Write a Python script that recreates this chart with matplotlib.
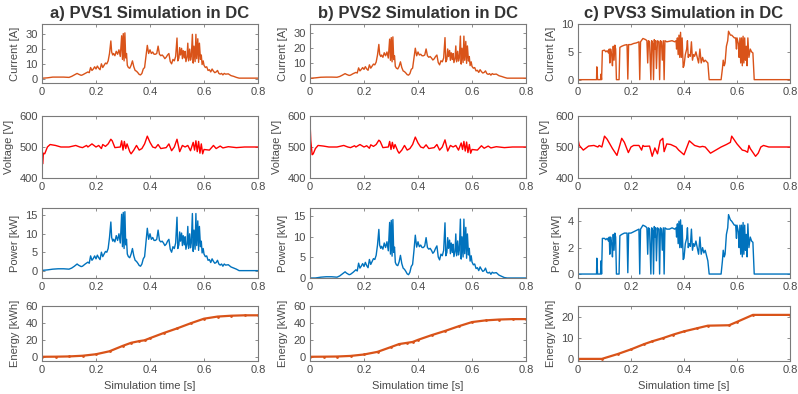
# PV system DC simulation: current, voltage, power and energy for three PV systems

import matplotlib.pyplot as plt

# ------------------------------------------
# Data
# ------------------------------------------

# shared time grid for PVS1 / PVS2 current and power
t12 = [0, 0.005, 0.02, 0.04, 0.06, 0.08, 0.10, 0.11, 0.12, 0.13,
       0.135, 0.145, 0.15, 0.16, 0.17, 0.175, 0.18, 0.185, 0.19, 0.195,
       0.20, 0.205, 0.21, 0.215, 0.22, 0.225, 0.23, 0.235, 0.24, 0.245,
       0.25, 0.255, 0.258, 0.262, 0.265, 0.27, 0.275, 0.28, 0.285, 0.29,
       0.295, 0.298, 0.301, 0.304, 0.307, 0.31, 0.313, 0.316, 0.32, 0.325,
       0.33, 0.335, 0.34, 0.345, 0.35, 0.355, 0.36, 0.365, 0.37, 0.375,
       0.38, 0.385, 0.39, 0.395, 0.40, 0.405, 0.41, 0.415, 0.42, 0.425,
       0.43, 0.435, 0.44, 0.445, 0.45, 0.455, 0.46, 0.465, 0.47, 0.475,
       0.48, 0.485, 0.49, 0.495, 0.50, 0.503, 0.507, 0.51, 0.513, 0.517,
       0.52, 0.523, 0.527, 0.53, 0.533, 0.537, 0.54, 0.543, 0.547, 0.55,
       0.553, 0.557, 0.56, 0.563, 0.567, 0.57, 0.573, 0.577, 0.58, 0.583,
       0.587, 0.59, 0.593, 0.597, 0.60, 0.605, 0.61, 0.615, 0.62, 0.625,
       0.63, 0.635, 0.64, 0.645, 0.65, 0.655, 0.66, 0.665, 0.67, 0.675,
       0.68, 0.69, 0.70, 0.71, 0.72, 0.73, 0.75, 0.80]

current1 = [0.3, 0.3, 0.5, 1.0, 1.0, 1.0, 0.8, 1.5, 2.5, 3.5,
            3.0, 2.2, 2.5, 3.5, 4.5, 4.0, 7.5, 5.5, 6.5, 8.0,
            6.5, 8.5, 7.0, 6.0, 10.0, 7.5, 9.0, 10.5, 10.0, 12.0,
            17.0, 25.5, 18.0, 16.0, 17.0, 15.5, 18.5, 16.5, 19.5, 15.0,
            29.0, 13.0, 30.5, 12.0, 31.0, 14.0, 17.0, 9.0, 7.5, 7.0,
            9.0, 12.0, 8.0, 5.5, 5.0, 4.0, 2.8, 2.5, 3.5, 6.5,
            7.5, 15.0, 22.5, 17.0, 19.5, 17.0, 18.0, 16.5, 16.5, 17.0,
            22.0, 16.5, 15.5, 16.0, 15.0, 13.5, 14.5, 16.0, 17.0, 11.5,
            10.0, 13.0, 12.0, 15.0, 27.5, 12.0, 14.0, 21.0, 16.0, 20.5,
            13.5, 19.0, 14.0, 18.5, 11.5, 14.5, 24.0, 12.0, 20.0, 12.5,
            15.0, 30.0, 10.5, 22.0, 11.5, 30.0, 13.5, 27.0, 11.0, 24.0,
            13.0, 16.0, 9.5, 12.0, 9.0, 7.5, 8.0, 5.5, 6.0, 4.5,
            6.5, 5.0, 4.0, 4.5, 5.5, 3.5, 3.0, 3.5, 2.5, 3.5,
            3.0, 3.2, 2.0, 1.5, 0.8, 0.3, 0.3, 0.3]

power1 = [0.1, 0.1, 0.2, 0.4, 0.5, 0.5, 0.4, 0.7, 1.2, 1.8,
          1.5, 1.1, 1.2, 1.8, 2.3, 2.0, 4.0, 2.8, 3.3, 4.0,
          3.2, 4.2, 3.5, 3.0, 5.0, 3.8, 4.5, 5.2, 5.0, 6.0,
          9.0, 13.2, 9.0, 8.0, 8.5, 7.8, 9.5, 8.2, 10.0, 7.5,
          15.3, 6.5, 15.8, 6.0, 16.0, 7.0, 8.5, 4.5, 3.8, 3.5,
          4.5, 6.0, 4.0, 2.8, 2.5, 2.0, 1.4, 1.2, 1.8, 3.2,
          3.8, 7.5, 11.5, 8.5, 10.0, 8.5, 9.0, 8.2, 8.2, 8.5,
          11.0, 8.2, 7.8, 8.0, 7.5, 6.8, 7.2, 8.0, 8.5, 5.8,
          5.0, 6.5, 6.0, 7.5, 14.5, 6.0, 7.0, 10.5, 8.0, 10.2,
          6.8, 9.5, 7.0, 9.2, 5.8, 7.2, 12.0, 6.0, 10.0, 6.2,
          7.5, 15.5, 5.2, 11.0, 5.8, 15.5, 6.8, 13.5, 5.5, 12.0,
          6.5, 8.0, 4.8, 6.0, 4.5, 3.8, 4.0, 2.8, 3.0, 2.2,
          3.2, 2.5, 2.0, 2.2, 2.8, 1.8, 1.5, 1.8, 1.2, 1.8,
          1.5, 1.6, 1.0, 0.7, 0.4, 0.0, 0.0, 0.0]

current2 = [0.0, 0.2, 0.4, 0.8, 0.9, 0.9, 0.8, 1.3, 2.2, 3.2,
            2.7, 2.0, 2.2, 3.2, 4.0, 3.6, 7.0, 5.0, 6.0, 7.2,
            6.0, 7.8, 6.3, 5.4, 9.0, 6.8, 8.2, 9.5, 9.0, 10.8,
            15.5, 22.5, 16.0, 14.5, 15.5, 14.0, 17.0, 15.0, 17.5, 13.5,
            26.0, 12.0, 27.0, 11.0, 27.5, 12.5, 15.0, 8.0, 6.8, 6.3,
            8.0, 11.0, 7.2, 5.0, 4.5, 3.6, 2.5, 2.2, 3.2, 6.0,
            6.8, 13.5, 20.0, 15.0, 17.5, 15.5, 16.0, 15.0, 15.0, 15.5,
            19.5, 15.0, 14.0, 14.5, 13.5, 12.2, 13.0, 14.5, 15.5, 10.5,
            9.0, 11.7, 11.0, 13.5, 27.0, 11.0, 12.5, 19.5, 14.5, 18.5,
            12.0, 17.0, 12.5, 16.5, 10.5, 13.0, 21.5, 11.0, 18.0, 11.5,
            13.5, 28.0, 9.5, 20.0, 10.5, 28.0, 12.0, 24.5, 10.0, 21.5,
            11.5, 14.5, 8.5, 11.0, 8.0, 6.8, 7.2, 5.0, 5.4, 4.0,
            5.8, 4.5, 3.6, 4.0, 5.0, 3.2, 2.7, 3.2, 2.2, 3.2,
            2.7, 2.9, 1.8, 1.3, 0.7, 0.2, 0.2, 0.2]

power2 = [0.0, 0.0, 0.0, 0.2, 0.3, 0.3, 0.2, 0.5, 1.0, 1.5,
          1.2, 0.8, 0.9, 1.4, 2.0, 1.7, 3.6, 2.4, 2.9, 3.5,
          2.8, 3.8, 3.0, 2.5, 4.5, 3.3, 4.0, 4.7, 4.5, 5.5,
          8.0, 11.8, 8.0, 7.2, 7.7, 7.0, 8.5, 7.4, 8.8, 6.6,
          13.5, 5.8, 14.0, 5.3, 14.2, 6.2, 7.5, 3.8, 3.2, 3.0,
          3.9, 5.5, 3.5, 2.4, 2.1, 1.6, 1.0, 0.8, 1.4, 2.8,
          3.3, 6.6, 10.4, 7.5, 8.8, 7.6, 8.0, 7.4, 7.4, 7.8,
          9.8, 7.4, 7.0, 7.2, 6.7, 6.0, 6.4, 7.2, 7.8, 5.1,
          4.4, 5.8, 5.4, 6.7, 13.4, 5.4, 6.2, 9.8, 7.2, 9.2,
          5.9, 8.5, 6.2, 8.2, 5.2, 6.4, 10.7, 5.4, 9.0, 5.6,
          6.7, 14.3, 4.6, 10.0, 5.1, 14.3, 5.9, 12.3, 4.8, 10.7,
          5.6, 7.2, 4.1, 5.4, 3.9, 3.2, 3.4, 2.3, 2.5, 1.8,
          2.7, 2.1, 1.6, 1.8, 2.4, 1.4, 1.2, 1.4, 0.9, 1.4,
          1.2, 1.3, 0.7, 0.4, 0.1, 0.0, 0.0, 0.0]

# PVS3 current / power time grid
t3 = [0, 0.07, 0.071, 0.074, 0.085, 0.087, 0.089, 0.092, 0.10, 0.105,
      0.11, 0.115, 0.118, 0.12, 0.123, 0.127, 0.13, 0.133, 0.136, 0.139,
      0.142, 0.145, 0.155, 0.158, 0.165, 0.175, 0.185, 0.188, 0.191, 0.20,
      0.21, 0.22, 0.23, 0.233, 0.236, 0.245, 0.255, 0.26, 0.263, 0.266,
      0.27, 0.275, 0.278, 0.282, 0.285, 0.288, 0.29, 0.293, 0.296, 0.30,
      0.305, 0.308, 0.311, 0.315, 0.318, 0.322, 0.325, 0.328, 0.335, 0.345,
      0.355, 0.365, 0.37, 0.372, 0.375, 0.378, 0.381, 0.384, 0.387, 0.39,
      0.393, 0.397, 0.40, 0.405, 0.41, 0.413, 0.416, 0.42, 0.424, 0.428,
      0.432, 0.436, 0.44, 0.445, 0.45, 0.455, 0.46, 0.465, 0.47, 0.475,
      0.48, 0.49, 0.495, 0.54, 0.545, 0.548, 0.552, 0.555, 0.56, 0.565,
      0.568, 0.575, 0.58, 0.59, 0.595, 0.598, 0.60, 0.605, 0.608, 0.611,
      0.614, 0.617, 0.62, 0.623, 0.626, 0.629, 0.632, 0.635, 0.638, 0.641,
      0.645, 0.65, 0.655, 0.66, 0.665, 0.80]

current3 = [0, 0, 2.3, 0, 0, 1.0, 0, 5.2, 5.3, 5.0,
            5.2, 4.8, 5.5, 3.0, 5.5, 4.5, 2.5, 6.0, 3.5, 6.2,
            5.5, 0, 0, 5.8, 6.0, 6.2, 6.3, 0.1, 6.3, 6.3,
            6.5, 6.6, 6.8, 0, 6.8, 7.4, 7.2, 7.0, 3.0, 7.0,
            6.8, 0, 7.0, 6.5, 0, 7.2, 5.5, 7.0, 2.0, 7.0,
            6.8, 0, 7.0, 6.8, 3.5, 7.0, 0, 7.0, 6.8, 6.9,
            7.0, 6.8, 7.0, 5.5, 7.5, 4.5, 8.0, 4.0, 8.5, 4.0,
            7.5, 2.2, 2.5, 4.5, 5.5, 7.0, 4.0, 4.5, 4.2, 6.8,
            3.5, 4.5, 4.2, 5.0, 4.0, 3.0, 5.5, 3.0, 4.0, 3.2,
            3.5, 3.0, 0, 0, 2.0, 3.5, 2.5, 3.0, 6.0, 7.0,
            8.7, 8.0, 8.0, 7.5, 7.5, 5.5, 7.5, 6.5, 4.0, 7.5,
            3.0, 7.5, 2.5, 7.8, 3.0, 7.5, 3.5, 6.0, 2.5, 7.5,
            4.0, 5.5, 5.0, 4.8, 0, 0]

power3 = [0, 0, 1.2, 0, 0, 1.0, 0, 2.7, 2.7, 2.6,
          2.7, 2.5, 2.8, 1.5, 2.8, 2.3, 1.3, 3.0, 1.8, 3.1,
          2.8, 0, 0, 2.9, 3.0, 3.1, 3.1, 0.1, 3.1, 3.1,
          3.2, 3.3, 3.4, 0, 3.4, 3.7, 3.6, 3.5, 1.5, 3.5,
          3.4, 0, 3.5, 3.3, 0, 3.6, 2.8, 3.5, 1.0, 3.5,
          3.4, 0, 3.5, 3.4, 1.8, 3.5, 0, 3.5, 3.4, 3.4,
          3.5, 3.4, 3.5, 2.8, 3.8, 2.3, 4.0, 2.0, 4.1, 2.0,
          3.7, 1.1, 1.2, 2.3, 2.7, 3.5, 2.0, 2.3, 2.1, 3.4,
          1.8, 2.3, 2.1, 2.5, 2.0, 1.5, 2.8, 1.5, 2.0, 1.6,
          1.8, 1.0, 0, 0, 1.0, 1.8, 1.3, 1.5, 3.0, 3.5,
          4.5, 4.1, 4.0, 3.7, 3.7, 2.7, 3.7, 3.2, 2.0, 3.7,
          1.5, 3.7, 1.3, 3.9, 1.5, 3.7, 1.8, 3.0, 1.3, 3.8,
          2.0, 2.8, 2.5, 2.4, 0, 0]

# voltages
tv1 = [0, 0.002, 0.005, 0.01, 0.02, 0.03, 0.05, 0.07, 0.1, 0.125,
       0.14, 0.15, 0.165, 0.17, 0.185, 0.2, 0.21, 0.22, 0.225, 0.235,
       0.245, 0.255, 0.26, 0.27, 0.29, 0.295, 0.30, 0.305, 0.31, 0.315,
       0.325, 0.33, 0.34, 0.35, 0.36, 0.37, 0.38, 0.39, 0.40, 0.41,
       0.42, 0.43, 0.44, 0.46, 0.47, 0.48, 0.49, 0.50, 0.51, 0.52,
       0.53, 0.54, 0.55, 0.56, 0.565, 0.57, 0.575, 0.58, 0.585, 0.59,
       0.595, 0.60, 0.62, 0.635, 0.645, 0.66, 0.67, 0.69, 0.72, 0.75, 0.80]
voltage1 = [535, 445, 480, 478, 500, 508, 505, 500, 500, 505,
            500, 498, 505, 500, 510, 500, 505, 495, 508, 502,
            510, 525, 520, 498, 500, 520, 490, 518, 495, 510,
            485, 478, 490, 505, 490, 495, 510, 535, 515, 500,
            497, 508, 495, 498, 510, 488, 500, 525, 485, 505,
            500, 505, 488, 515, 490, 520, 485, 518, 480, 510,
            478, 492, 490, 505, 495, 503, 497, 501, 498, 500, 500]

tv2 = [0, 0.003, 0.008, 0.012, 0.02, 0.03, 0.05, 0.07, 0.1, 0.125,
       0.14, 0.15, 0.165, 0.17, 0.185, 0.2, 0.21, 0.22, 0.225, 0.235,
       0.245, 0.255, 0.26, 0.27, 0.29, 0.295, 0.30, 0.305, 0.31, 0.315,
       0.325, 0.33, 0.34, 0.35, 0.36, 0.37, 0.38, 0.39, 0.40, 0.41,
       0.42, 0.43, 0.44, 0.46, 0.47, 0.48, 0.49, 0.50, 0.51, 0.52,
       0.53, 0.54, 0.55, 0.56, 0.565, 0.57, 0.575, 0.58, 0.585, 0.59,
       0.595, 0.60, 0.62, 0.635, 0.645, 0.66, 0.67, 0.69, 0.72, 0.75, 0.80]
voltage2 = [580, 520, 475, 478, 495, 505, 503, 500, 500, 505,
            500, 498, 504, 500, 508, 500, 504, 496, 507, 502,
            508, 522, 518, 498, 500, 518, 492, 515, 495, 508,
            487, 480, 490, 505, 490, 495, 508, 532, 513, 500,
            497, 507, 495, 498, 508, 490, 500, 523, 487, 505,
            500, 505, 490, 513, 492, 518, 487, 516, 482, 508,
            480, 492, 490, 504, 496, 503, 497, 501, 498, 500, 500]

tv3 = [0, 0.005, 0.02, 0.04, 0.06, 0.075, 0.08, 0.09, 0.10, 0.11,
       0.12, 0.13, 0.147, 0.165, 0.175, 0.19, 0.20, 0.21, 0.23, 0.24,
       0.245, 0.25, 0.27, 0.28, 0.29, 0.30, 0.31, 0.32, 0.325, 0.335,
       0.35, 0.37, 0.38, 0.40, 0.42, 0.44, 0.46, 0.47, 0.48, 0.50,
       0.52, 0.54, 0.56, 0.575, 0.58, 0.60, 0.62, 0.63, 0.64, 0.645,
       0.65, 0.67, 0.68, 0.69, 0.70, 0.72, 0.80]
voltage3 = [525, 505, 490, 503, 505, 500, 505, 500, 535, 525,
            510, 495, 473, 528, 515, 482, 500, 505, 505, 490,
            505, 502, 503, 470, 497, 478, 520, 528, 485, 510,
            508, 500, 490, 475, 520, 505, 500, 502, 500, 480,
            490, 500, 508, 515, 535, 510, 490, 488, 483, 505,
            495, 470, 480, 500, 505, 500, 500]

# energies
te12 = [0, 0.05, 0.1, 0.15, 0.2, 0.25, 0.3, 0.33, 0.36, 0.38,
        0.4, 0.45, 0.5, 0.55, 0.6, 0.65, 0.7, 0.75, 0.8]
energy1 = [0, 0.1, 0.4, 1.2, 3.0, 6.5, 13, 16.5, 18.5, 19.5,
           22, 28, 33.5, 39.5, 45, 47.5, 48.5, 49, 49]
energy2 = [0, 0.1, 0.3, 1.0, 2.7, 5.8, 11.5, 15, 16.5, 17.5,
           20, 25.5, 30.5, 36, 41, 43, 44, 44.5, 44.5]
te3 = [0, 0.09, 0.15, 0.2, 0.25, 0.28, 0.32, 0.36, 0.40, 0.45,
       0.49, 0.57, 0.6, 0.66, 0.8]
energy3 = [0, 0, 2.3, 4.5, 7, 8.3, 9.8, 11.5, 13, 14.5,
           15.7, 15.9, 17.5, 20.8, 20.8]

titles = ["a) PVS1 Simulation in DC", "b) PVS2 Simulation in DC", "c) PVS3 Simulation in DC"]
ylabels = ["Current [A]", "Voltage [V]", "Power [kW]", "Energy [kWh]"]
xticks = [0, 0.2, 0.4, 0.6, 0.8]
xticklabels = ["0", "0.2", "0.4", "0.6", "0.8"]

# ------------------------------------------
# Layout (pixel boxes from the original)
# ------------------------------------------

plt.rcParams['font.family'] = ['Liberation Sans', 'DejaVu Sans']
plt.rcParams['font.size'] = 8

W, H = 798, 394
col_left = [42, 310, 578]
col_width = [216, 216, 212]
row_box = [(24, 83), (116, 178), (208, 278), (306, 361)]

ORANGE = "#D95319"
BLUE = "#0072BD"
RED = "#FF0000"
AX_COL = "#7a7a7a"
TXT_COL = "#4a4a4a"

columns = [
    dict(ti=t12, cur=current1, pw=power1, tv=tv1, v=voltage1, te=te12, en=energy1,
         ylims=[(-3, 37), (400, 600), (-2, 17), (-5, 60)],
         yticks=[[0, 10, 20, 30], [400, 500, 600], [0, 5, 10, 15], [0, 20, 40, 60]]),
    dict(ti=t12, cur=current2, pw=power2, tv=tv2, v=voltage2, te=te12, en=energy2,
         ylims=[(-3, 36), (400, 600), (0, 17), (-5, 60)],
         yticks=[[0, 10, 20, 30], [400, 500, 600], [0, 5, 10, 15], [0, 20, 40, 60]]),
    dict(ti=t3, cur=current3, pw=power3, tv=tv3, v=voltage3, te=te3, en=energy3,
         ylims=[(-0.6, 10), (400, 600), (-0.3, 5), (-1, 25)],
         yticks=[[0, 5, 10], [400, 500, 600], [0, 2, 4], [0, 10, 20]]),
]


def style_axis(ax, ylim, yticks, ylabel):
    ax.set_xlim(0, 0.8)
    ax.set_ylim(*ylim)
    ax.set_xticks(xticks)
    ax.set_xticklabels(xticklabels)
    ax.set_yticks(yticks)
    ax.set_ylabel(ylabel, color=TXT_COL, fontsize=8)
    ax.tick_params(direction="in", top=True, right=True, length=2.5, width=0.6,
                   colors=AX_COL, labelcolor=TXT_COL, labelsize=8, pad=3)
    for s in ax.spines.values():
        s.set_color(AX_COL)
        s.set_linewidth(0.8)


fig = plt.figure(figsize=(W / 100, H / 100), dpi=100)

for c, d in enumerate(columns):
    for r in range(4):
        top, bot = row_box[r]
        ax = fig.add_axes([col_left[c] / W, 1 - bot / H, col_width[c] / W, (bot - top) / H])
        if r == 0:
            ax.plot(d["ti"], d["cur"], color=ORANGE, lw=1.0)
            ax.set_title(titles[c], fontsize=12, fontweight="bold", color="#333333", pad=4)
        elif r == 1:
            ax.plot(d["tv"], d["v"], color=RED, lw=1.0)
        elif r == 2:
            ax.plot(d["ti"], d["pw"], color=BLUE, lw=1.0)
        else:
            ax.plot(d["te"], d["en"], color=ORANGE, lw=1.6, marker=".", markersize=2)
            ax.set_xlabel("Simulation time [s]", color=TXT_COL, fontsize=8)
        style_axis(ax, d["ylims"][r], d["yticks"][r], ylabel=ylabels[r])

fig.savefig("out.png", dpi=100)
